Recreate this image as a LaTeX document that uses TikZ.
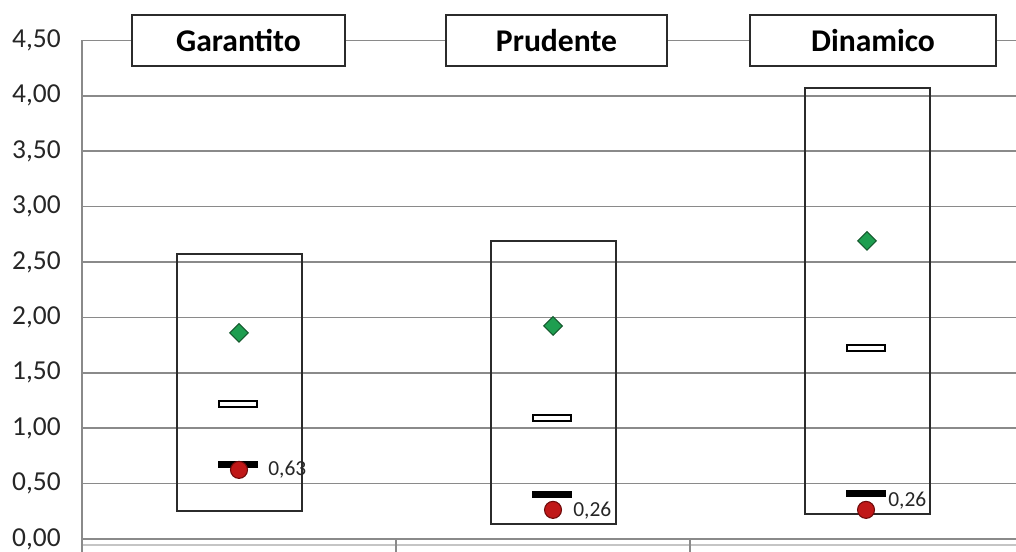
\documentclass[tikz,border=0pt]{standalone}
\usepackage{fontspec}
\setmainfont{Carlito}
\usetikzlibrary{shapes.geometric}
\definecolor{gridgray}{HTML}{8A8A8A}
\definecolor{boxline}{HTML}{2B2B2B}
\definecolor{diamondgreen}{HTML}{1E9E50}
\definecolor{diamondedge}{HTML}{155A2E}
\definecolor{dotred}{HTML}{C01818}
\definecolor{dotedge}{HTML}{6E0A0A}
\tikzset{
  gridline/.style={gridgray,line width=0.9pt},
  rangebox/.style={boxline,line width=1.2pt},
  titlebox/.style={draw=boxline,line width=1.2pt,fill=white,minimum height=1.02cm,
    inner sep=0pt,font=\fontsize{18}{20}\selectfont\bfseries},
  ylabel/.style={anchor=east,inner sep=0pt,text=black!85,font=\fontsize{15.6}{17}\selectfont},
  vallabel/.style={anchor=west,inner sep=0pt,text=black!85,font=\fontsize{12.2}{14}\selectfont},
  avgmark/.style={diamond,aspect=1,draw=diamondedge,fill=diamondgreen,line width=0.6pt,
    minimum size=0.38cm,inner sep=0pt},
  medmark/.style={rectangle,draw=black,fill=white,line width=0.8pt,
    minimum width=0.76cm,minimum height=0.12cm,inner sep=0pt},
  lowbar/.style={rectangle,fill=black,minimum width=0.8cm,minimum height=0.14cm,inner sep=0pt},
  dotmark/.style={circle,draw=dotedge,fill=dotred,line width=0.6pt,minimum size=0.34cm,inner sep=0pt}
}
\begin{document}
\begin{tikzpicture}[x=0.02cm,y=2.216cm]
\useasboundingbox (0,-0.1173) rectangle (1016,4.8646);

% grid and axis
\foreach \v/\t [count=\i] in {0/{0,00}, 0.5/{0,50}, 1/{1,00}, 1.5/{1,50}, 2/{2,00},
                             2.5/{2,50}, 3/{3,00}, 3.5/{3,50}, 4/{4,00}, 4.5/{4,50}} {
  \draw[gridline] (83,\v) -- (1016,\v);
  \node[ylabel] (ylab\i) at (61,\v) {\t};
}
\draw[gridline] (82,-0.1173) -- (82,4.5);
\draw[gridgray!50,line width=0.6pt] (83,-0.055) -- (1016,-0.055);
\coordinate (s1) at (396,0);
\coordinate (s2) at (690,0);
\draw[gridline] (s1) -- (396,-0.1173);
\draw[gridline] (s2) -- (690,-0.1173);

% ranges
\draw[rangebox] (177,0.25)  rectangle (302,2.57);
\draw[rangebox] (491,0.135) rectangle (616,2.69);
\draw[rangebox] (805,0.226) rectangle (930,4.07);

% titles
\node[titlebox,minimum width=4.26cm] (garantito) at (238.5,4.5) {Garantito};
\node[titlebox,minimum width=4.42cm] (prudente)  at (556.5,4.5) {Prudente};
\node[titlebox,minimum width=4.92cm] (dinamico)  at (873,4.5)   {Dinamico};

% Garantito
\node[avgmark] (gavg) at (239,1.859) {};
\node[medmark] (gmed) at (238,1.218) {};
\node[lowbar]  (glow) at (238,0.668) {};
\node[dotmark] (gdot) at (239,0.623) {};
\node[vallabel] (gval) at (268,0.623) {0,63};

% Prudente
\node[avgmark] (pavg) at (553,1.922) {};
\node[medmark] (pmed) at (552,1.092) {};
\node[lowbar]  (plow) at (552,0.397) {};
\node[dotmark] (pdot) at (553,0.262) {};
\node[vallabel] (pval) at (573,0.253) {0,26};

% Dinamico
\node[avgmark] (davg) at (867,2.69) {};
\node[medmark] (dmed) at (866,1.724) {};
\node[lowbar]  (dlow) at (866,0.406) {};
\node[dotmark] (ddot) at (866,0.262) {};
\node[vallabel] (dval) at (888,0.343) {0,26};
\end{tikzpicture}
\end{document}
